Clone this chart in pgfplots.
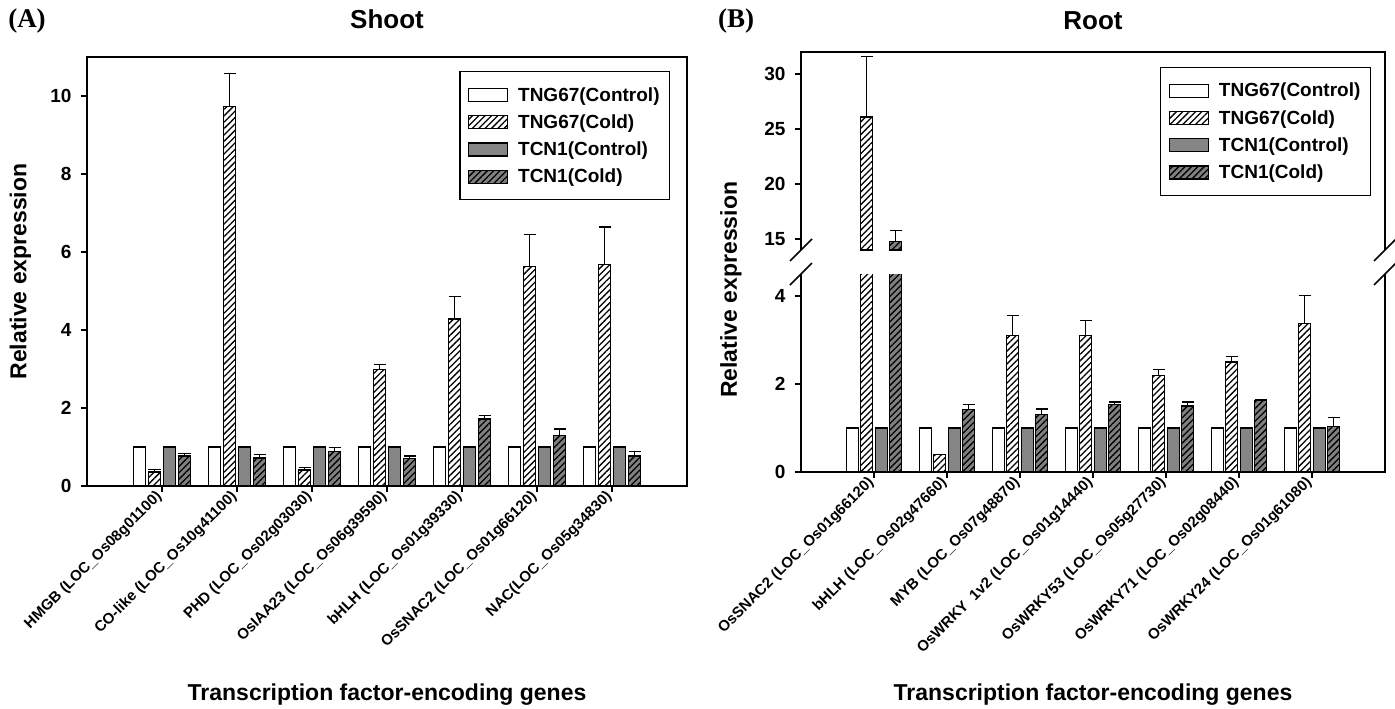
\documentclass[border=0pt]{standalone}
\usepackage{pgfplots}
\usepackage{pgfplotstable}
\pgfplotsset{compat=1.18}
\usepackage{fontspec}
\setmainfont{Liberation Sans}
\newfontfamily\timesfont{Liberation Serif}
\usetikzlibrary{patterns.meta}
\definecolor{ctrlgray}{gray}{0.52}
\definecolor{coldgray}{gray}{0.50}

\pgfplotstableread{
x ctl cold colde tctl tcold tcolde
0 1 0.36 0.07 1 0.77 0.06
1 1 9.74 0.83 1 0.72 0.08
2 1 0.41 0.06 1 0.89 0.09
3 1 2.98 0.14 1 0.70 0.07
4 1 4.28 0.57 1 1.72 0.08
5 1 5.62 0.82 1 1.29 0.17
6 1 5.67 0.97 1 0.77 0.11
}\shootdata

\pgfplotstableread{
x ctl cold colde tctl tcold tcolde
0 1 26.1 5.5 1 14.8 0.95
1 1 0.40 0.00 1 1.42 0.12
2 1 3.10 0.46 1 1.30 0.13
3 1 3.11 0.33 1 1.53 0.06
4 1 2.20 0.13 1 1.50 0.09
5 1 2.50 0.12 1 1.63 0.02
6 1 3.38 0.64 1 1.04 0.20
}\rootdata

% values of the broken (upper) part of the root panel
\pgfplotstableread{
x cold colde tcold tcolde
0 26.1 5.5 14.8 0.95
}\rootupper

\pgfplotsset{
  bstyle/.style={draw=black, line width=1.2pt},
  sA/.style={bstyle, fill=white},
  sB/.style={bstyle, fill=white, postaction={pattern={Lines[angle=45,distance=4.5pt,line width=1.3pt]}}},
  sC/.style={bstyle, fill=ctrlgray},
  sD/.style={bstyle, fill=coldgray, postaction={pattern={Lines[angle=45,distance=4.5pt,line width=1.3pt]}}},
  myerr/.style={error bars/y dir=plus, error bars/y explicit,
    error bars/error bar style={line width=1.2pt, black},
    error bars/error mark options={rotate=90, mark size=6pt, line width=1.2pt, black}},
  common/.style={
    scale only axis, ybar,
    xmin=-1, xmax=7,
    tick align=outside, major tick length=6pt,
    xtick pos=left, ytick pos=left,
    every tick/.style={black, line width=1.5pt},
    axis line style={line width=2pt},
    /pgf/number format/assume math mode=true,
    xticklabel style={font=\fontsize{15}{18}\selectfont\bfseries},
    yticklabel style={font=\fontsize{19}{22}\selectfont\bfseries, xshift=-6pt},
    label style={font=\fontsize{23}{27}\selectfont\bfseries},
    title style={font=\fontsize{26}{30}\selectfont\bfseries},
    legend image code/.code={\draw[##1] (0pt,-6.5pt) rectangle (39pt,6.5pt); \path (47pt,0pt);},
    legend style={draw=black, line width=1.2pt, font=\fontsize{19}{22}\selectfont\bfseries,
      cells={anchor=west}, inner xsep=8pt, inner ysep=13.5pt, row sep=8pt},
  },
}

\begin{document}
\begin{tikzpicture}
\useasboundingbox (0pt,0pt) rectangle (1395pt,-709pt);

\node[font=\timesfont\fontsize{27}{30}\selectfont\bfseries] at (27pt,-21pt) {(A)};
\node[font=\timesfont\fontsize{27}{30}\selectfont\bfseries] at (736pt,-21pt) {(B)};

% ---------------- Shoot ----------------
\begin{axis}[common,
  at={(87pt,-486pt)}, anchor=south west,
  width=600pt, height=429pt,
  ymin=0, ymax=11, ytick={0,2,...,10},
  xtick={0,...,6},
  xticklabels={{HMGB (LOC\_Os08g01100)},{CO-like (LOC\_Os10g41100)},{PHD (LOC\_Os02g03030)},{OsIAA23 (LOC\_Os06g39590)},{bHLH (LOC\_Os01g39330)},{OsSNAC2 (LOC\_Os01g66120)},{NAC(LOC\_Os05g34830)}},
  xticklabel style={rotate=45, anchor=east},
  ylabel={Relative expression},
  ylabel style={at={(axis description cs:-0.111,0.5)}, anchor=center},
  xlabel={Transcription factor-encoding genes},
  xlabel style={at={(axis description cs:0.5,-0.487)}, anchor=center},
  title={Shoot},
  title style={at={(axis description cs:0.5,1.073)}, anchor=center},
  legend style={at={(axis description cs:0.972,0.967)}, anchor=north east},
]
\addplot[sA, bar width=12.5pt, bar shift=-22.5pt] table[x=x,y=ctl]{\shootdata};
\addplot[sB, bar width=12.5pt, bar shift=-7.5pt, myerr] table[x=x,y=cold,y error=colde]{\shootdata};
\addplot[sC, bar width=12.5pt, bar shift=7.5pt] table[x=x,y=tctl]{\shootdata};
\addplot[sD, bar width=12.5pt, bar shift=22.5pt, myerr] table[x=x,y=tcold,y error=tcolde]{\shootdata};
\legend{TNG67(Control),TNG67(Cold),TCN1(Control),TCN1(Cold)}
\end{axis}

% ---------------- Root (upper) ----------------
\begin{axis}[common,
  at={(801pt,-250pt)}, anchor=south west,
  width=584pt, height=198pt,
  ymin=14, ymax=32, ytick={15,20,25,30},
  xtick=\empty,
  axis line style={draw=none},
  clip mode=individual,
  title={Root},
  title style={at={(axis description cs:0.5,1.13)}, anchor=center},
  legend style={at={(axis description cs:0.976,0.924)}, anchor=north east},
]
\addlegendimage{sA}
\addlegendimage{sB}
\addlegendimage{sC}
\addlegendimage{sD}
\addplot[sB, bar width=12pt, bar shift=-7.25pt, myerr, forget plot] table[x=x,y=cold,y error=colde]{\rootupper};
\addplot[sD, bar width=12pt, bar shift=21.75pt, myerr, forget plot] table[x=x,y=tcold,y error=tcolde]{\rootupper};
\legend{TNG67(Control),TNG67(Cold),TCN1(Control),TCN1(Cold)}
\draw[line width=2pt] (rel axis cs:0,0) -- (rel axis cs:0,1) -- (rel axis cs:1,1) -- (rel axis cs:1,0);
\draw[line width=1.5pt] ([xshift=-11pt,yshift=-11pt]rel axis cs:0,0) -- ([xshift=11pt,yshift=11pt]rel axis cs:0,0);
\draw[line width=1.5pt] ([xshift=-11pt,yshift=-11pt]rel axis cs:1,0) -- ([xshift=11pt,yshift=11pt]rel axis cs:1,0);
\end{axis}

% ---------------- Root (lower) ----------------
\begin{axis}[common,
  at={(801pt,-472pt)}, anchor=south west,
  width=584pt, height=198pt,
  ymin=0, ymax=4.5, ytick={0,2,4},
  xtick={0,...,6},
  xticklabels={{OsSNAC2 (LOC\_Os01g66120)},{bHLH (LOC\_Os02g47660)},{MYB (LOC\_Os07g48870)},{OsWRKY\ \ 1v2 (LOC\_Os01g14440)},{OsWRKY53 (LOC\_Os05g27730)},{OsWRKY71 (LOC\_Os02g08440)},{OsWRKY24 (LOC\_Os01g61080)}},
  xticklabel style={rotate=45, anchor=east},
  axis line style={draw=none},
  clip mode=individual,
  ylabel={Relative expression},
  ylabel style={at={(axis description cs:-0.12,0.92)}, anchor=center},
  xlabel={Transcription factor-encoding genes},
  xlabel style={at={(axis description cs:0.5,-1.126)}, anchor=center},
]
\addplot[sA, bar width=12pt, bar shift=-21.75pt] table[x=x,y=ctl]{\rootdata};
\addplot[sB, bar width=12pt, bar shift=-7.25pt, myerr] table[x=x,y=cold,y error=colde]{\rootdata};
\addplot[sC, bar width=12pt, bar shift=7.25pt] table[x=x,y=tctl]{\rootdata};
\addplot[sD, bar width=12pt, bar shift=21.75pt, myerr] table[x=x,y=tcold,y error=tcolde]{\rootdata};
\draw[line width=2pt] (rel axis cs:0,1) -- (rel axis cs:0,0) -- (rel axis cs:1,0) -- (rel axis cs:1,1);
\draw[line width=1.5pt] ([xshift=-11pt,yshift=-11pt]rel axis cs:0,1) -- ([xshift=11pt,yshift=11pt]rel axis cs:0,1);
\draw[line width=1.5pt] ([xshift=-11pt,yshift=-11pt]rel axis cs:1,1) -- ([xshift=11pt,yshift=11pt]rel axis cs:1,1);
\end{axis}
\end{tikzpicture}
\end{document}
